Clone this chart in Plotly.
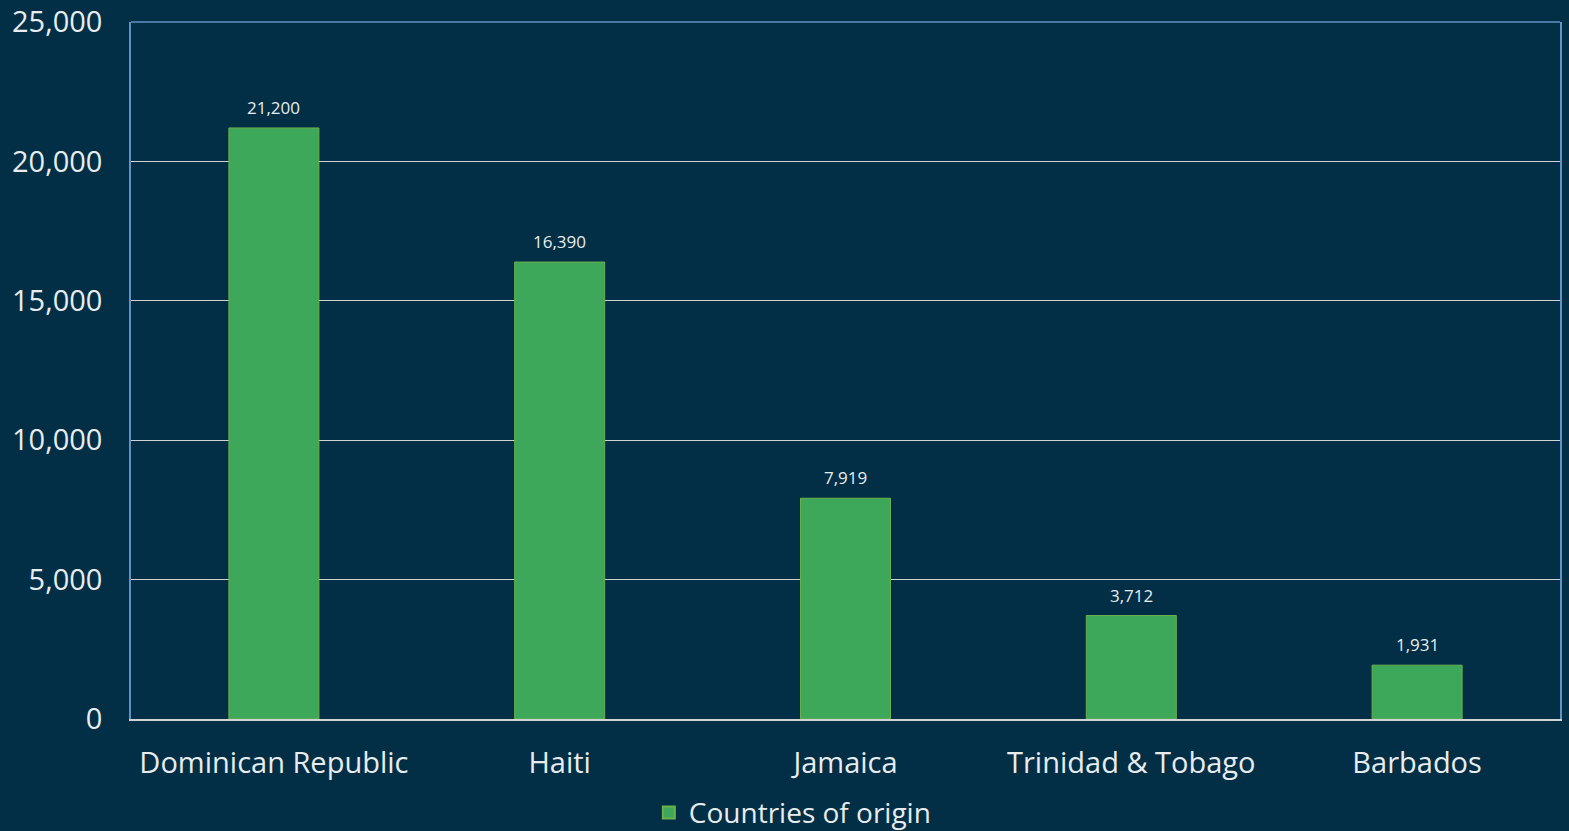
import plotly.graph_objects as go

categories = ["Dominican Republic", "Haiti", "Jamaica", "Trinidad & Tobago", "Barbados"]
values = [21200, 16390, 7919, 3712, 1931]
series_name = "Countries of origin"
tick_vals = [0, 5000, 10000, 15000, 20000, 25000]
tick_text = ["0", "5,000", "10,000", "15,000", "20,000", "25,000"]

BG = "#022F45"
BAR = "#3EA85A"
BAR_LINE = "#6DAF4C"
BORDER = "#5F93C4"
GRID = "#D0D3D6"
TXT = "#E8ECEF"

fig = go.Figure()
fig.add_trace(go.Bar(
    x=categories, y=values, name=series_name,
    marker=dict(color=BAR, line=dict(color=BAR_LINE, width=1)),
    cliponaxis=False, showlegend=False,
))
# legend-only entry with a larger square swatch
fig.add_trace(go.Scatter(
    x=[None], y=[None], mode="markers", name=series_name,
    marker=dict(symbol="square", size=18, color=BAR, line=dict(color=BAR_LINE, width=1)),
    showlegend=True, hoverinfo="skip",
))

annotations = [
    dict(x=c, y=v, xref="x", yref="y", text=f"{v:,}", showarrow=False,
         yanchor="bottom", yshift=7,
         font=dict(family="Open Sans", size=17, color=TXT))
    for c, v in zip(categories, values)
]

fig.update_layout(
    width=1569, height=831,
    paper_bgcolor=BG, plot_bgcolor=BG,
    margin=dict(l=131, r=9, t=22, b=112, autoexpand=False),
    bargap=0.685,
    font=dict(family="Open Sans", color=TXT),
    showlegend=True,
    legend=dict(orientation="h", xref="container", yref="container",
                x=0.505, y=0.022, xanchor="center", yanchor="middle",
                itemwidth=30, itemsizing="constant",
                font=dict(family="Open Sans", size=28, color=TXT),
                bgcolor="rgba(0,0,0,0)"),
    xaxis=dict(showline=True, linecolor=GRID, linewidth=2, showgrid=False,
               automargin=False,
               tickfont=dict(family="Open Sans", size=29, color=TXT),
               ticks="", ticklabelstandoff=17),
    yaxis=dict(range=[0, 25000], tickvals=tick_vals, ticktext=tick_text,
               automargin=False,
               showgrid=True, gridcolor=GRID, gridwidth=1,
               showline=True, mirror=True, linecolor=BORDER, linewidth=1.5,
               zeroline=False,
               tickfont=dict(family="Open Sans", size=29, color=TXT),
               ticks="", ticklabelstandoff=21),
    shapes=[dict(type="line", xref="paper", yref="paper", x0=0, x1=1, y0=1, y1=1,
                 line=dict(color=BORDER, width=1.5))],
    annotations=annotations,
)

fig.write_html("out.html", config={"displayModeBar": False},
               post_script="document.body.style.margin='0';document.body.style.padding='0';document.body.style.background='" + BG + "';")
